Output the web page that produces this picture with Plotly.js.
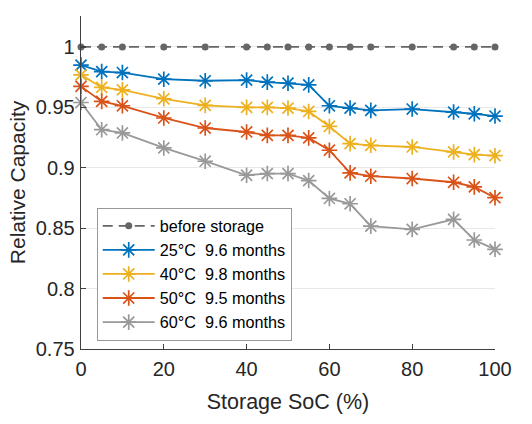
<!DOCTYPE html>
<html>
<head>
<meta charset="utf-8">
<script src="https://cdn.plot.ly/plotly-3.0.1.min.js"></script>
<style>html,body{margin:0;padding:0;background:#fff}#chart{width:532px;height:424px}</style>
</head>
<body>
<div id="chart"></div>
<script>
const soc = [0, 5, 10, 20, 30, 40, 45, 50, 55, 60, 65, 70, 80, 90, 95, 100];
const beforeStorage = [1, 1, 1, 1, 1, 1, 1, 1, 1, 1, 1, 1, 1, 1, 1, 1];
const cap25 = [0.985, 0.9796, 0.9788, 0.9733, 0.972, 0.9725, 0.9709, 0.970, 0.9686, 0.9513, 0.9494, 0.9475, 0.9486, 0.9461, 0.9447, 0.9428];
const cap40 = [0.9769, 0.9665, 0.9645, 0.9571, 0.9516, 0.950, 0.950, 0.9494, 0.9466, 0.9342, 0.920, 0.9186, 0.9172, 0.9131, 0.9109, 0.910];
const cap50 = [0.9673, 0.9549, 0.9513, 0.9412, 0.9329, 0.9296, 0.9268, 0.9268, 0.9247, 0.9145, 0.8958, 0.893, 0.8911, 0.888, 0.8842, 0.8752];
const cap60 = [0.954, 0.9315, 0.9288, 0.9164, 0.9054, 0.8938, 0.8952, 0.8952, 0.8894, 0.8746, 0.8702, 0.8517, 0.849, 0.8573, 0.8402, 0.8325];
const seriesNames = ['before storage', '25°C  9.6 months', '40°C  9.8 months', '50°C  9.5 months', '60°C  9.6 months'];
const seriesColors = ['#666666', '#0072BD', '#EDB120', '#D95319', '#999999'];
const yTicks = [0.75, 0.8, 0.85, 0.9, 0.95, 1];
const xTicks = [0, 20, 40, 60, 80, 100];

const font = 'Liberation Sans, Arial, Helvetica, sans-serif';
const textColor = '#262626';

function starTrace(y, i) {
  return {
    x: soc, y: y, name: seriesNames[i], type: 'scatter', mode: 'lines+markers',
    cliponaxis: false,
    line: {color: seriesColors[i], width: 1.8},
    marker: {symbol: 'asterisk-open', size: 13, color: seriesColors[i], line: {color: seriesColors[i], width: 1.7}}
  };
}

const traces = [
  {
    x: soc, y: beforeStorage, name: seriesNames[0], type: 'scatter', mode: 'lines+markers',
    cliponaxis: false,
    line: {color: seriesColors[0], width: 1.8, dash: '10px,6px'},
    marker: {symbol: 'circle', size: 7, color: seriesColors[0]}
  },
  starTrace(cap25, 1),
  starTrace(cap40, 2),
  starTrace(cap50, 3),
  starTrace(cap60, 4)
];

const layout = {
  width: 532, height: 424,
  margin: {l: 81, r: 37, t: 16, b: 75},
  paper_bgcolor: '#ffffff', plot_bgcolor: '#ffffff',
  font: {family: font, color: textColor, size: 20},
  showlegend: true,
  legend: {
    x: 0.038, y: 0.424, xanchor: 'left', yanchor: 'top',
    bgcolor: '#ffffff', bordercolor: '#999999', borderwidth: 1,
    font: {family: font, size: 16.2, color: '#000000'},
    itemwidth: 52, tracegroupgap: 0
  },
  xaxis: {
    range: [0, 100], tickvals: xTicks, ticktext: xTicks.map(String),
    showgrid: false, zeroline: false,
    showline: true, linecolor: '#404040', linewidth: 1.3,
    ticks: 'inside', ticklen: 5, tickcolor: '#404040', tickwidth: 1.2,
    ticklabelstandoff: 2,
    tickfont: {family: font, size: 20, color: textColor},
    title: {text: 'Storage SoC (%)', font: {family: font, size: 21.5, color: textColor}, standoff: 14}
  },
  yaxis: {
    range: [0.75, 1.0256], tickvals: yTicks, ticktext: yTicks.map(String),
    showgrid: true, gridcolor: '#e8e8e8', gridwidth: 1,
    zeroline: false,
    showline: true, linecolor: '#404040', linewidth: 1.3,
    ticks: 'inside', ticklen: 5, tickcolor: '#404040', tickwidth: 1.2,
    ticklabelstandoff: 1,
    tickfont: {family: font, size: 20, color: textColor},
    title: {text: 'Relative Capacity', font: {family: font, size: 21, color: textColor}, standoff: 4}
  }
};

Plotly.newPlot('chart', traces, layout, {displayModeBar: false, staticPlot: true});
</script>
</body>
</html>
